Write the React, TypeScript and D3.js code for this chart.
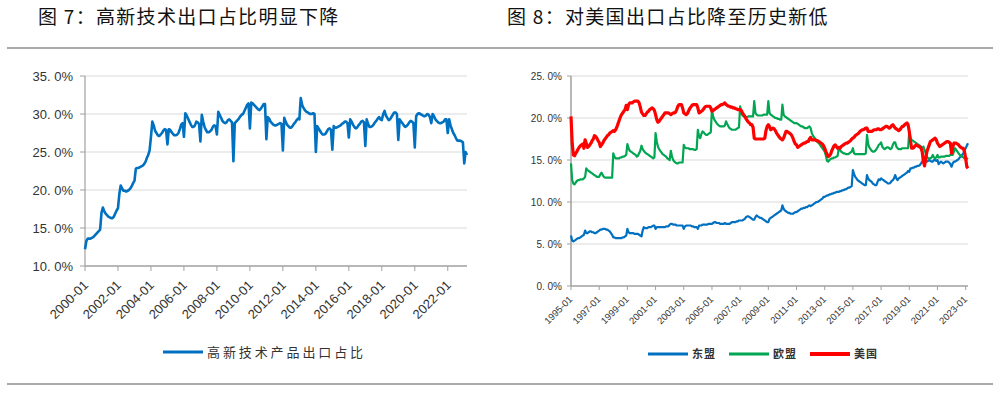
import React from "react";
import * as d3 from "d3";

// ---------- Figure 7 data (monthly, 2000-01 .. 2023-03) ----------
const hiTechStartYear = 2000;
const hiTechShare: number[] = [
  12.2, 13.3, 13.6, 13.6, 13.6, 13.7, 13.8, 14.0, 14.2, 14.4, 14.6, 14.8,
  17.0, 17.7, 17.2, 16.9, 16.7, 16.5, 16.4, 16.3, 16.3, 16.5, 16.9, 17.3,
  17.6, 19.5, 20.6, 20.2, 19.9, 19.9, 19.8, 19.9, 20.0, 20.2, 20.5, 20.9,
  21.2, 22.8, 22.9, 22.9, 23.0, 23.1, 23.2, 23.4, 23.7, 24.2, 24.6, 25.2,
  27.0, 29.0, 28.5, 27.8, 27.5, 27.2, 27.1, 27.3, 27.5, 27.8, 28.0, 27.9,
  26.0, 28.0, 27.9, 27.6, 27.4, 27.2, 27.2, 27.3, 27.5, 28.0, 28.6, 28.8,
  27.0, 30.1, 29.8, 29.4, 29.0, 28.6, 28.3, 28.3, 28.5, 29.0, 28.9, 28.7,
  26.4, 29.9, 29.0, 28.3, 27.9, 27.6, 27.6, 27.7, 27.9, 28.3, 28.5, 28.4,
  27.3, 30.3, 29.9, 29.5, 29.1, 28.9, 28.8, 28.9, 29.2, 29.3, 29.1, 28.9,
  23.8, 28.8, 29.0, 29.2, 29.4, 29.7, 29.9, 30.0, 30.4, 30.8, 31.2, 31.4,
  28.1, 31.5, 31.4, 31.2, 31.0, 30.8, 30.6, 30.5, 30.7, 31.0, 31.3, 31.3,
  26.7, 29.6, 29.4, 29.0, 28.8, 28.6, 28.5, 28.5, 28.6, 28.7, 28.8, 28.7,
  25.2, 29.5, 29.0, 28.6, 28.4, 28.2, 28.2, 28.4, 28.7, 28.9, 29.2, 29.4,
  29.3, 32.1, 31.2, 30.8, 30.5, 30.3, 30.2, 30.1, 30.0, 30.0, 30.1, 30.0,
  25.0, 28.4, 28.1, 27.8, 27.5, 27.3, 27.3, 27.4, 27.7, 28.0, 28.1, 27.9,
  25.3, 28.4, 28.2, 28.2, 28.3, 28.4, 28.5, 28.7, 28.8, 29.0, 29.0, 28.8,
  26.9, 29.3, 29.0, 28.6, 28.3, 28.1, 28.2, 28.5, 28.7, 29.0, 29.1, 28.9,
  25.8, 29.3, 28.7, 28.3, 28.3, 28.4, 28.6, 28.9, 29.1, 29.4, 29.6, 29.3,
  29.2, 30.0, 30.4, 29.8, 29.5, 29.2, 29.3, 29.6, 29.9, 30.2, 30.2, 30.0,
  26.6, 29.3, 29.0, 28.8, 28.5, 28.3, 28.4, 28.6, 28.9, 29.1, 29.0, 28.8,
  25.6, 29.7, 30.0, 30.1, 30.0, 29.9, 29.8, 29.7, 29.8, 30.0, 29.9, 29.6,
  28.8, 30.0, 29.7, 29.3, 29.1, 28.9, 28.8, 28.8, 28.9, 29.0, 29.3, 29.3,
  27.5, 29.3, 28.5, 28.0, 27.5, 27.2, 26.8, 26.5, 26.5, 26.5, 26.4, 26.3,
  23.5, 25.0, 24.6,
];
const leftYTicks = [10, 15, 20, 25, 30, 35];
const leftYLabels = ["10. 0%", "15. 0%", "20. 0%", "25. 0%", "30. 0%", "35. 0%"];
const leftXTickLabels = [
  "2000-01", "2002-01", "2004-01", "2006-01", "2008-01", "2010-01",
  "2012-01", "2014-01", "2016-01", "2018-01", "2020-01", "2022-01",
];

// ---------- Figure 8 data (monthly, 1995-01 .. 2023-03) ----------
const shareStartYear = 1995;
const aseanShare: number[] = [
  6.0, 5.4, 5.3, 5.4, 5.5, 5.6, 5.7, 5.7, 5.8, 5.9, 6.0, 6.1,
  6.6, 6.3, 6.3, 6.4, 6.5, 6.5, 6.4, 6.4, 6.3, 6.3, 6.4, 6.5,
  6.6, 6.7, 6.7, 6.8, 6.8, 6.8, 6.7, 6.7, 6.6, 6.5, 6.3, 6.1,
  5.8, 5.8, 5.7, 5.7, 5.7, 5.7, 5.7, 5.7, 5.8, 5.8, 5.9, 6.0,
  6.8, 6.4, 6.3, 6.3, 6.3, 6.3, 6.2, 6.2, 6.2, 6.2, 6.1, 6.0,
  5.9, 6.6, 7.0, 6.9, 6.9, 6.9, 7.0, 7.0, 7.0, 7.1, 7.2, 7.2,
  6.8, 7.0, 7.0, 7.0, 7.0, 7.0, 7.0, 7.0, 7.0, 7.1, 7.1, 7.1,
  7.3, 7.4, 7.4, 7.3, 7.3, 7.3, 7.2, 7.2, 7.2, 7.2, 7.2, 7.2,
  6.8, 7.1, 7.2, 7.2, 7.2, 7.2, 7.2, 7.1, 7.1, 7.0, 7.0, 7.0,
  6.8, 7.2, 7.2, 7.2, 7.3, 7.3, 7.3, 7.3, 7.3, 7.4, 7.4, 7.4,
  7.4, 7.5, 7.6, 7.6, 7.5, 7.5, 7.5, 7.4, 7.4, 7.4, 7.4, 7.5,
  7.4, 7.4, 7.4, 7.4, 7.5, 7.6, 7.6, 7.6, 7.6, 7.7, 7.7, 7.8,
  7.8, 7.8, 7.8, 7.9, 8.0, 8.2, 8.3, 8.3, 8.2, 8.1, 8.0, 7.9,
  7.9, 8.2, 8.4, 8.3, 8.2, 8.1, 8.1, 8.0, 7.9, 7.8, 7.7, 7.6,
  7.6, 8.0, 8.1, 8.2, 8.3, 8.4, 8.5, 8.6, 8.7, 8.8, 8.9, 9.0,
  9.6, 9.2, 9.0, 8.9, 8.8, 8.7, 8.7, 8.6, 8.6, 8.6, 8.7, 8.8,
  8.8, 8.9, 9.0, 9.1, 9.2, 9.2, 9.3, 9.3, 9.4, 9.4, 9.5, 9.6,
  9.5, 9.6, 9.7, 9.8, 9.9, 10.0, 10.0, 10.1, 10.2, 10.3, 10.4, 10.6,
  10.6, 10.7, 10.8, 10.8, 10.9, 10.9, 11.0, 11.0, 11.1, 11.1, 11.2, 11.2,
  11.2, 11.3, 11.3, 11.4, 11.4, 11.5, 11.5, 11.6, 11.7, 11.7, 11.8, 11.9,
  13.8, 13.3, 13.0, 12.8, 12.6, 12.5, 12.4, 12.3, 12.2, 12.1, 12.0, 12.0,
  13.2, 12.8, 12.6, 12.5, 12.4, 12.2, 12.1, 12.0, 12.0, 12.4, 12.7, 12.6,
  12.8, 12.7, 12.6, 12.5, 12.4, 12.3, 12.2, 12.2, 12.3, 12.5, 12.6, 12.8,
  13.2, 12.8, 12.6, 12.8, 12.9, 13.0, 13.1, 13.2, 13.3, 13.4, 13.5, 13.7,
  13.6, 14.0, 14.0, 14.1, 14.1, 14.2, 14.2, 14.3, 14.3, 14.4, 14.6, 14.8,
  14.8, 14.8, 14.8, 14.8, 14.9, 15.0, 14.9, 14.8, 14.8, 15.0, 15.0, 14.9,
  15.0, 14.5, 14.7, 14.8, 14.7, 14.6, 14.7, 14.8, 14.8, 14.8, 14.7, 14.5,
  14.2, 14.6, 14.8, 14.8, 14.9, 15.0, 15.1, 15.3, 15.4, 15.6, 15.8, 16.1,
  16.4, 16.7, 17.0,
];
const euShare: number[] = [
  14.6, 12.6, 12.2, 12.1, 12.3, 12.5, 12.6, 12.6, 12.7, 12.7, 12.7, 12.8,
  13.0, 14.0, 13.8, 13.7, 13.6, 13.5, 13.4, 13.3, 13.2, 13.1, 13.0, 13.0,
  13.0, 13.3, 13.5, 13.2, 13.0, 12.9, 12.9, 12.9, 12.9, 12.9, 12.9, 12.9,
  15.8, 15.4, 15.2, 15.2, 15.2, 15.2, 15.3, 15.3, 15.4, 15.4, 15.5, 15.6,
  16.9, 16.4, 16.1, 16.0, 15.9, 15.8, 15.7, 15.6, 15.4, 15.5, 15.8, 16.1,
  16.7, 16.3, 16.1, 15.9, 15.8, 15.7, 15.6, 15.5, 15.4, 15.3, 15.2, 15.3,
  18.2, 17.2, 16.6, 16.3, 16.1, 15.9, 15.7, 15.6, 15.5, 15.4, 15.2, 15.1,
  15.0, 16.1, 15.4, 15.0, 14.8, 14.7, 14.6, 14.6, 14.7, 14.7, 14.7, 14.7,
  16.8, 16.5, 16.4, 16.4, 16.4, 16.3, 16.3, 16.3, 16.3, 16.2, 16.2, 16.3,
  18.6, 17.8, 17.6, 18.1, 18.4, 18.3, 18.1, 18.0, 18.0, 18.1, 18.2, 18.3,
  21.0, 20.2, 19.8, 19.6, 19.4, 19.2, 19.1, 19.0, 19.0, 19.0, 19.0, 19.1,
  19.6, 19.3, 19.0, 18.8, 18.7, 18.6, 18.6, 18.6, 18.6, 18.7, 18.8, 18.9,
  21.4, 20.6, 20.3, 20.2, 20.2, 20.1, 20.1, 20.2, 20.2, 20.2, 20.2, 20.2,
  22.0, 20.6, 20.4, 20.3, 20.3, 20.3, 20.3, 20.3, 20.4, 20.4, 20.4, 20.4,
  22.0, 20.6, 20.4, 20.3, 20.2, 20.1, 20.0, 20.0, 19.9, 19.9, 19.8, 19.8,
  21.6, 20.4, 20.2, 20.1, 20.0, 19.9, 19.8, 19.7, 19.6, 19.5, 19.4, 19.4,
  19.4, 19.3, 19.2, 19.1, 19.0, 19.0, 18.9, 18.8, 18.8, 18.8, 18.9, 19.0,
  18.8, 18.2, 17.9, 17.7, 17.5, 17.3, 17.1, 17.0, 16.8, 16.6, 16.4, 16.2,
  16.0, 15.5, 14.9, 14.8, 15.0, 15.1, 15.2, 15.2, 15.3, 15.3, 15.4, 15.5,
  16.4, 16.2, 16.0, 15.9, 15.8, 15.8, 15.7, 15.7, 15.7, 15.8, 15.9, 16.0,
  16.4, 15.8, 15.7, 15.7, 15.7, 15.7, 15.7, 15.7, 15.7, 15.7, 15.7, 15.8,
  18.0, 16.9, 16.5, 16.3, 16.1, 16.0, 16.0, 16.1, 16.3, 16.5, 16.8, 16.9,
  17.1, 16.6, 16.4, 16.3, 16.4, 16.5, 16.5, 16.4, 16.3, 16.4, 16.8, 17.1,
  17.1, 16.6, 16.4, 16.3, 16.3, 16.3, 16.4, 16.4, 16.4, 16.4, 16.4, 16.4,
  18.4, 17.6, 17.4, 17.3, 17.2, 17.1, 17.0, 16.9, 16.8, 16.7, 16.6, 16.3,
  16.6, 16.2, 15.8, 15.4, 15.2, 15.2, 15.2, 15.3, 15.6, 15.3, 15.2, 15.3,
  15.6, 15.3, 15.3, 15.4, 15.4, 15.4, 15.4, 15.5, 15.5, 15.5, 15.5, 15.6,
  15.6, 15.6, 16.0, 16.4, 16.2, 16.0, 15.8, 15.6, 15.5, 15.4, 15.3, 15.2,
  15.2, 15.2, 15.1,
];
const usShare: number[] = [
  20.2, 17.0, 15.6, 15.5, 15.8, 16.0, 16.3, 16.5, 16.7, 16.8, 16.9, 16.4,
  17.4, 17.0, 16.5, 16.6, 16.8, 17.0, 17.3, 17.5, 17.9, 17.8, 17.6, 17.3,
  17.1, 16.6, 16.8, 17.0, 17.3, 17.5, 17.7, 17.9, 18.0, 18.2, 18.3, 18.4,
  18.5, 18.4, 18.6, 18.9, 19.3, 19.7, 20.1, 20.4, 20.6, 20.8, 21.0, 21.5,
  21.0, 21.6, 21.8, 21.8, 21.8, 21.9, 22.0, 22.0, 22.0, 22.0, 21.8, 21.3,
  20.7, 20.5, 20.3, 20.3, 20.5, 20.7, 20.8, 21.0, 21.1, 21.2, 21.1, 20.9,
  20.4, 19.8, 19.5, 19.6, 19.8, 20.0, 20.2, 20.4, 20.6, 20.6, 20.6, 20.6,
  20.5, 20.4, 20.5, 20.6, 20.6, 20.7, 21.0, 21.4, 21.6, 21.6, 21.6, 21.2,
  20.6, 20.5, 20.4, 20.5, 20.8, 21.1, 21.3, 21.5, 21.6, 21.6, 21.6, 21.6,
  21.2, 20.6, 20.7, 20.8, 20.9, 21.1, 21.3, 21.4, 21.4, 21.4, 21.4, 21.2,
  20.8, 20.9, 21.0, 21.1, 21.2, 21.3, 21.4, 21.5, 21.6, 21.6, 21.7, 21.8,
  21.6, 21.5, 21.4, 21.4, 21.3, 21.3, 21.2, 21.2, 21.1, 21.1, 21.0, 21.0,
  21.0, 20.9, 20.6, 20.4, 20.2, 19.9, 19.7, 19.5, 19.4, 19.2, 19.2, 18.9,
  17.6, 17.5, 17.5, 17.5, 17.5, 17.5, 17.5, 17.5, 17.5, 17.6, 18.5, 19.0,
  19.2, 19.0, 18.6, 18.7, 18.8, 18.7, 18.5, 18.2, 18.0, 17.8, 17.6, 17.5,
  17.4, 17.6, 18.0, 18.4, 18.4, 18.3, 18.2, 18.1, 17.9, 17.6, 17.2, 16.9,
  16.8, 16.5, 16.6, 16.7, 16.8, 16.9, 17.0, 17.0, 17.1, 17.2, 17.2, 17.5,
  17.7, 17.4, 17.4, 17.4, 17.4, 17.3, 17.3, 17.2, 17.1, 17.0, 16.9, 16.7,
  16.4, 16.0, 15.7, 15.4, 15.5, 15.7, 16.1, 16.4, 16.7, 16.8, 16.6, 16.4,
  16.5, 16.4, 16.6, 16.7, 16.8, 16.9, 17.0, 17.0, 17.1, 17.2, 17.3, 17.5,
  17.6, 17.7, 17.9, 18.0, 18.1, 18.2, 18.4, 18.5, 18.6, 18.6, 18.7, 18.8,
  18.8, 18.4, 18.4, 18.4, 18.4, 18.5, 18.6, 18.6, 18.6, 18.7, 18.7, 18.6,
  18.6, 18.7, 18.8, 18.9, 19.0, 19.0, 18.9, 18.8, 18.9, 19.1, 19.2, 19.0,
  18.8, 18.7, 18.6, 18.5, 18.6, 18.8, 19.0, 19.0, 19.2, 19.3, 19.4, 19.2,
  18.4, 17.3, 16.4, 16.4, 16.5, 16.7, 16.8, 16.7, 16.6, 16.6, 16.4, 16.0,
  14.8, 14.3, 15.2, 16.0, 16.4, 16.8, 17.2, 17.3, 17.4, 17.5, 17.6, 17.4,
  17.0, 16.8, 16.6, 16.7, 16.8, 16.9, 17.0, 17.1, 17.2, 17.2, 17.1, 17.0,
  15.8, 16.5, 17.0, 17.0, 17.0, 16.9, 16.8, 16.6, 16.5, 16.4, 16.4, 16.0,
  15.2, 14.2, 14.0,
];
const rightYTicks = [0, 5, 10, 15, 20, 25];
const rightYLabels = ["0. 0%", "5. 0%", "10. 0%", "15. 0%", "20. 0%", "25. 0%"];
const rightXTickLabels = [
  "1995-01", "1997-01", "1999-01", "2001-01", "2003-01", "2005-01", "2007-01",
  "2009-01", "2011-01", "2013-01", "2015-01", "2017-01", "2019-01", "2021-01", "2023-01",
];
const seriesNames = ["东盟", "欧盟", "美国"];
const seriesColors = ["#0070C0", "#00A651", "#FF0000"];

const monthIndex = (label: string, startYear: number) => {
  const [y, m] = label.split("-").map(Number);
  return (y - startYear) * 12 + (m - 1);
};

const CJK = "'Noto Sans CJK SC', 'Noto Sans', sans-serif";
const LAT = "'Liberation Sans', Arial, sans-serif";

export default function App() {
  // left chart scales
  const xL = d3.scaleLinear().domain([0, 278]).range([85, 467]);
  const yL = d3.scaleLinear().domain([10, 35]).range([266, 76]);
  const lineL = d3
    .line<number>()
    .x((_, i) => xL(i))
    .y((v) => yL(v));

  // right chart scales
  const xR = d3.scaleLinear().domain([0, 338]).range([571, 968]);
  const yR = d3.scaleLinear().domain([0, 25]).range([286, 76]);
  const lineR = d3
    .line<number>()
    .x((_, i) => xR(i))
    .y((v) => yR(v));
  const rightSeries = [aseanShare, euShare, usShare];
  const rightWidths = [2.2, 2.2, 3.2];

  const gridColor = "#D9D9D9";
  const axisColor = "#A0A0A0";
  const textColor = "#333333";

  return (
    <svg
      width={1000}
      height={396}
      viewBox="0 0 1000 396"
      style={{ position: "absolute", left: 0, top: 0, display: "block", background: "#fff" }}
    >
      <rect x={0} y={0} width={1000} height={396} fill="#fff" />
      {/* titles */}
      <text x={38} y={24} fontFamily={CJK} fontSize={19} letterSpacing={1.3} fill="#111">
        图 7：高新技术出口占比明显下降
      </text>
      <text x={507} y={24} fontFamily={CJK} fontSize={19} letterSpacing={1.3} fill="#111">
        图 8：对美国出口占比降至历史新低
      </text>
      {/* separators */}
      <line x1={7} x2={993} y1={48} y2={48} stroke="#8C8C8C" strokeWidth={1.3} />
      <line x1={7} x2={993} y1={384} y2={384} stroke="#8C8C8C" strokeWidth={1.3} />

      {/* ---------- left chart ---------- */}
      <g>
        {leftYTicks.map((t, i) => (
          <g key={"lg" + t}>
            {i > 0 && (
              <line x1={85} x2={467} y1={yL(t)} y2={yL(t)} stroke={gridColor} strokeWidth={1.2} />
            )}
            <line x1={80} x2={85} y1={yL(t)} y2={yL(t)} stroke={axisColor} strokeWidth={1} />
            <text
              x={73}
              y={yL(t) + 4.5}
              textAnchor="end"
              fontFamily={LAT}
              fontSize={13}
              fill={textColor}
            >
              {leftYLabels[i]}
            </text>
          </g>
        ))}
        <line x1={85} x2={85} y1={76} y2={266} stroke={axisColor} strokeWidth={1.2} />
        <line x1={85} x2={467} y1={266} y2={266} stroke={axisColor} strokeWidth={1.5} />
        {leftXTickLabels.map((lab) => {
          const x = xL(monthIndex(lab, hiTechStartYear));
          return (
            <g key={"lx" + lab}>
              <line x1={x} x2={x} y1={266} y2={271} stroke={axisColor} strokeWidth={1} />
              <text
                transform={`translate(${x + 4},${286}) rotate(-45)`}
                textAnchor="end"
                fontFamily={LAT}
                fontSize={13}
                fill={textColor}
              >
                {lab}
              </text>
            </g>
          );
        })}
        <path d={lineL(hiTechShare) || ""} fill="none" stroke="#0070C0" strokeWidth={2.6} strokeLinejoin="round" />
        {/* legend */}
        <line x1={163} x2={203} y1={352} y2={352} stroke="#0070C0" strokeWidth={3} />
        <text x={207} y={357} fontFamily={CJK} fontSize={13} letterSpacing={2.9} fill={textColor}>
          高新技术产品出口占比
        </text>
      </g>

      {/* ---------- right chart ---------- */}
      <g>
        {rightYTicks.map((t, i) => (
          <g key={"rg" + t}>
            {i > 0 && (
              <line x1={571} x2={968} y1={yR(t)} y2={yR(t)} stroke={gridColor} strokeWidth={1.2} />
            )}
            <line x1={567} x2={571} y1={yR(t)} y2={yR(t)} stroke={axisColor} strokeWidth={1} />
            <text
              x={562}
              y={yR(t) + 3.5}
              textAnchor="end"
              fontFamily={LAT}
              fontSize={10}
              fill={textColor}
            >
              {rightYLabels[i]}
            </text>
          </g>
        ))}
        <line x1={571} x2={571} y1={76} y2={286} stroke={axisColor} strokeWidth={1.5} />
        <line x1={571} x2={968} y1={286} y2={286} stroke={axisColor} strokeWidth={1.5} />
        {rightXTickLabels.map((lab) => {
          const x = xR(monthIndex(lab, shareStartYear));
          return (
            <g key={"rx" + lab}>
              <line x1={x} x2={x} y1={286} y2={290} stroke={axisColor} strokeWidth={1} />
              <text
                transform={`translate(${x + 2},${300}) rotate(-45)`}
                textAnchor="end"
                fontFamily={LAT}
                fontSize={9.5}
                fill={textColor}
              >
                {lab}
              </text>
            </g>
          );
        })}
        {rightSeries.map((s, i) => (
          <path
            key={"rs" + i}
            d={lineR(s) || ""}
            fill="none"
            stroke={seriesColors[i]}
            strokeWidth={rightWidths[i]}
            strokeLinejoin="round"
          />
        ))}
        {/* legend */}
        {seriesNames.map((n, i) => {
          const lx = [648, 729, 810][i];
          return (
            <g key={"rl" + n}>
              <line x1={lx} x2={lx + 40} y1={354} y2={354} stroke={seriesColors[i]} strokeWidth={i === 2 ? 4 : 3} />
              <text x={lx + 44} y={358} fontFamily={CJK} fontSize={11} fontWeight={700} letterSpacing={1} fill={textColor}>
                {n}
              </text>
            </g>
          );
        })}
      </g>
    </svg>
  );
}
